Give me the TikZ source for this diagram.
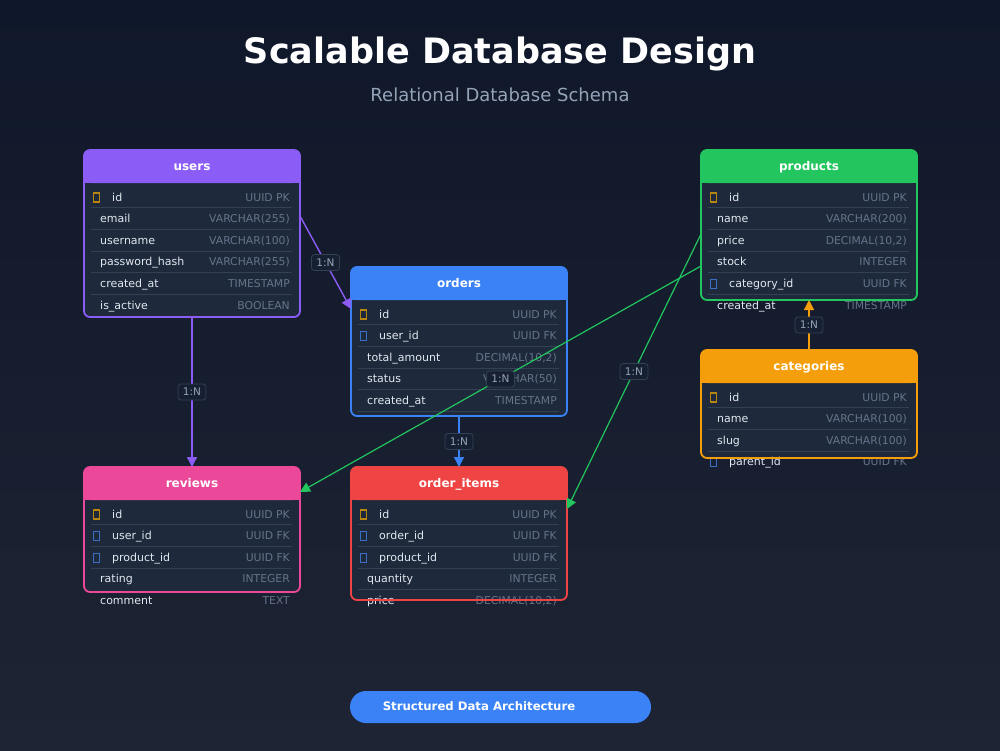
\documentclass[tikz,border=0pt]{standalone}
\usepackage{fontspec}
\setmainfont{DejaVu Sans}
\usetikzlibrary{arrows.meta,calc}
\definecolor{bgtop}{HTML}{0F172A}
\definecolor{bgbot}{HTML}{1E2433}
\definecolor{bodyc}{HTML}{1E293B}
\definecolor{sepc}{HTML}{334155}
\definecolor{namec}{HTML}{E2E8F0}
\definecolor{typec}{HTML}{64748B}
\definecolor{subc}{HTML}{94A3B8}
\definecolor{cpurple}{HTML}{8B5CF6}
\definecolor{cblue}{HTML}{3B82F6}
\definecolor{cgreen}{HTML}{22C55E}
\definecolor{camber}{HTML}{F59E0B}
\definecolor{cpink}{HTML}{EC4899}
\definecolor{cred}{HTML}{EF4444}
\definecolor{pkc}{HTML}{B8860B}
\definecolor{fkc}{HTML}{3B6FC4}
\definecolor{lblfill}{HTML}{172033}
\definecolor{lbldraw}{HTML}{334155}
\tikzset{
  tblnode/.style={rectangle, inner sep=0pt, outer sep=0pt, anchor=north west, minimum width=216pt},
  hdrtext/.style={text=white, font=\bfseries\fontsize{12}{14}\selectfont, inner sep=0pt, anchor=base},
  rowname/.style={text=namec, font=\fontsize{11}{13}\selectfont, inner sep=0pt},
  rowtype/.style={text=typec, font=\fontsize{10.8}{12}\selectfont, inner sep=0pt},
  sepline/.style={draw=sepc, line width=0.8pt},
  pkicon/.style={draw=pkc, line width=1.1pt, minimum width=5.5pt, minimum height=9pt, inner sep=0pt},
  fkicon/.style={draw=fkc, line width=1.1pt, minimum width=5.5pt, minimum height=9pt, inner sep=0pt},
  rel/.style={line width=1.4pt, -{Triangle[length=10pt,width=10pt]}},
  rellabel/.style={fill=lblfill, draw=lbldraw, line width=0.8pt, rounded corners=3pt, text=subc,
    font=\fontsize{10.5}{12}\selectfont, inner sep=2pt, minimum height=16pt, minimum width=28pt},
}
\newcommand\dbtable[6]{%
  \node[tblnode, minimum height=#4pt] (#1) at (#2,#3) {};
  \fill[bodyc, rounded corners=6pt] (#1.north west) rectangle (#1.south east);
  \fill[#5, rounded corners=6pt] (#1.north west) rectangle ([yshift=-33pt]#1.north east);
  \fill[#5] ([yshift=-20pt]#1.north west) rectangle ([yshift=-33pt]#1.north east);
  \node[hdrtext] (#1-title) at ([yshift=-20pt]#1.north) {#6};
}
\newcommand\dbborder[2]{\draw[#2, line width=1.8pt, rounded corners=6pt] (#1.north west) rectangle (#1.south east);}
\newcommand\rowbase[5]{%
  \pgfmathsetmacro\rowby{47+(#2-1)*21.6+4}%
  \node[rowname, anchor=base west] (#1-n#2) at ([xshift=#3pt, yshift=-\rowby pt]#1.north west) {#4};
  \node[rowtype, anchor=base east] (#1-t#2) at ([xshift=-10pt, yshift=-\rowby pt]#1.north east) {#5};
}
\newcommand\prow[4]{\rowbase{#1}{#2}{16}{#3}{#4}}
\newcommand\pkrow[4]{\rowbase{#1}{#2}{28}{#3}{#4}%
  \pgfmathsetmacro\rowcy{47+(#2-1)*21.6+0.5}%
  \node[pkicon] (#1-i#2) at ([xshift=12.5pt, yshift=-\rowcy pt]#1.north west) {};}
\newcommand\fkrow[4]{\rowbase{#1}{#2}{28}{#3}{#4}%
  \pgfmathsetmacro\rowcy{47+(#2-1)*21.6+0.5}%
  \node[fkicon] (#1-i#2) at ([xshift=12.5pt, yshift=-\rowcy pt]#1.north west) {};}
\newcommand\dbseps[2]{\foreach \k in {1,...,#2}{%
  \pgfmathsetmacro\sepy{47+(\k-1)*21.6+10.8}%
  \draw[sepline] ([xshift=7pt,yshift=-\sepy pt]#1.north west) -- ([xshift=-8pt,yshift=-\sepy pt]#1.north east);}}
\begin{document}
\begin{tikzpicture}[x=1pt,y=-1pt]
\useasboundingbox (0,0) rectangle (1000,750);
\shade[top color=bgtop, bottom color=bgbot] (0,0) rectangle (1000,750);

\node[text=white, font=\bfseries\fontsize{35}{40}\selectfont, anchor=base, inner sep=0pt] (title) at (500,63) {Scalable Database Design};
\node[text=subc, font=\fontsize{18}{21}\selectfont, anchor=base, inner sep=0pt] (subtitle) at (500,101) {Relational Database Schema};

% users
\dbtable{users}{84}{150}{167}{cpurple}{users}
\pkrow{users}{1}{id}{UUID PK}
\prow{users}{2}{email}{VARCHAR(255)}
\prow{users}{3}{username}{VARCHAR(100)}
\prow{users}{4}{password\_hash}{VARCHAR(255)}
\prow{users}{5}{created\_at}{TIMESTAMP}
\prow{users}{6}{is\_active}{BOOLEAN}
\dbseps{users}{5}
\dbborder{users}{cpurple}

% orders
\dbtable{orders}{351}{267}{149}{cblue}{orders}
\pkrow{orders}{1}{id}{UUID PK}
\fkrow{orders}{2}{user\_id}{UUID FK}
\prow{orders}{3}{total\_amount}{DECIMAL(10,2)}
\prow{orders}{4}{status}{VARCHAR(50)}
\prow{orders}{5}{created\_at}{TIMESTAMP}
\dbseps{orders}{5}
\dbborder{orders}{cblue}

% products
\dbtable{products}{701}{150}{150}{cgreen}{products}
\pkrow{products}{1}{id}{UUID PK}
\prow{products}{2}{name}{VARCHAR(200)}
\prow{products}{3}{price}{DECIMAL(10,2)}
\prow{products}{4}{stock}{INTEGER}
\fkrow{products}{5}{category\_id}{UUID FK}
\prow{products}{6}{created\_at}{TIMESTAMP}
\dbseps{products}{5}
\dbborder{products}{cgreen}

% categories
\dbtable{categories}{701}{350}{108}{camber}{categories}
\pkrow{categories}{1}{id}{UUID PK}
\prow{categories}{2}{name}{VARCHAR(100)}
\prow{categories}{3}{slug}{VARCHAR(100)}
\fkrow{categories}{4}{parent\_id}{UUID FK}
\dbseps{categories}{3}
\dbborder{categories}{camber}

% reviews
\dbtable{reviews}{84}{467}{125}{cpink}{reviews}
\pkrow{reviews}{1}{id}{UUID PK}
\fkrow{reviews}{2}{user\_id}{UUID FK}
\fkrow{reviews}{3}{product\_id}{UUID FK}
\prow{reviews}{4}{rating}{INTEGER}
\prow{reviews}{5}{comment}{TEXT}
\dbseps{reviews}{3}
\dbborder{reviews}{cpink}

% order_items
\dbtable{order_items}{351}{467}{133}{cred}{order\_items}
\pkrow{order_items}{1}{id}{UUID PK}
\fkrow{order_items}{2}{order\_id}{UUID FK}
\fkrow{order_items}{3}{product\_id}{UUID FK}
\prow{order_items}{4}{quantity}{INTEGER}
\prow{order_items}{5}{price}{DECIMAL(10,2)}
\dbseps{order_items}{4}
\dbborder{order_items}{cred}

% relations
\draw[rel, cpurple] ([yshift=-66pt]users.north east) -- ([yshift=-42pt]orders.north west) node[rellabel, midway] (l1) {1:N};
\draw[rel, cpurple] (users.south) -- (reviews.north) node[rellabel, midway] (l2) {1:N};
\draw[rel, cblue] (orders.south) -- (order_items.north) node[rellabel, midway] (l3) {1:N};
\draw[rel, camber] (categories.north) -- (products.south) node[rellabel, midway] (l4) {1:N};
\draw[rel, cgreen, line width=1.2pt] ([yshift=-116pt]products.north west) -- ([yshift=-25pt]reviews.north east) node[rellabel, midway] (l5) {1:N};
\draw[rel, cgreen, line width=1.2pt] ([yshift=-84pt]products.north west) -- ([yshift=-42pt]order_items.north east) node[rellabel, midway] (l6) {1:N};

% footer pill
\node[fill=cblue, rounded corners=16pt, minimum width=301pt, minimum height=32pt, inner sep=0pt] (pill) at (500.5,707) {};
\node[text=white, font=\bfseries\fontsize{11.7}{13}\selectfont, anchor=base, inner sep=0pt] (pilltext) at (479,710) {Structured Data Architecture};
\end{tikzpicture}
\end{document}
